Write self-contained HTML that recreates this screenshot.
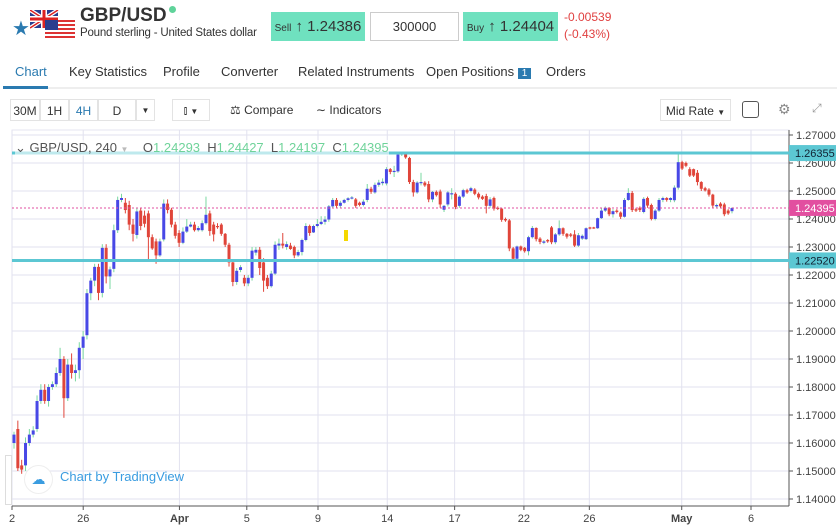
<!DOCTYPE html>
<html><head><meta charset="utf-8">
<style>
body{margin:0;width:837px;height:527px;overflow:hidden;background:#fff;font-family:"Liberation Sans",sans-serif;position:relative}
.a{position:absolute}
.tab{position:absolute;top:64px;font-size:13px;color:#333;white-space:nowrap}
.btn{position:absolute;top:99px;height:22px;border:1px solid #e3e3e3;font-size:12px;color:#333;line-height:22px;text-align:center;box-sizing:border-box;white-space:nowrap}
</style></head><body>
<div class="a" style="left:12px;top:16px;font-size:20px;color:#2a7ab0">★</div>
<svg class="a" style="left:30px;top:10px" width="46" height="30">
<rect x="0" y="0" width="28" height="18" fill="#2a3d8f"/><path d="M0 0L28 18M28 0L0 18" stroke="#fff" stroke-width="4"/><path d="M0 0L28 18M28 0L0 18" stroke="#d22" stroke-width="1.5"/><rect x="11" y="0" width="6" height="18" fill="#fff"/><rect x="0" y="6" width="28" height="6" fill="#fff"/><rect x="12.5" y="0" width="3" height="18" fill="#d22"/><rect x="0" y="7.5" width="28" height="3" fill="#d22"/>
<rect x="15" y="10" width="30" height="19" fill="#fff"/><g fill="#d33"><rect x="15" y="10" width="30" height="2"/><rect x="15" y="14" width="30" height="2"/><rect x="15" y="18" width="30" height="2"/><rect x="15" y="22" width="30" height="2"/><rect x="15" y="26" width="30" height="2"/></g><rect x="15" y="10" width="13" height="10" fill="#2a3d8f"/></svg>
<div class="a" style="left:80px;top:5px;font-size:19px;font-weight:bold;color:#333">GBP/USD</div>
<div class="a" style="left:169px;top:6px;width:7px;height:7px;border-radius:50%;background:#5fd39a"></div>
<div class="a" style="left:80px;top:27px;font-size:11.5px;color:#333;white-space:nowrap;letter-spacing:-0.2px">Pound sterling - United States dollar</div>
<div class="a" style="left:271px;top:12px;width:94px;height:29px;background:#6fe1bf;font-size:15px;line-height:29px;text-align:center;color:#333;white-space:nowrap"><span style="font-size:10px">Sell</span> ↑ 1.24386</div>
<div class="a" style="left:370px;top:12px;width:89px;height:29px;border:1px solid #ccc;box-sizing:border-box;font-size:13px;line-height:27px;text-align:center;color:#333">300000</div>
<div class="a" style="left:463px;top:12px;width:95px;height:29px;background:#6fe1bf;font-size:15px;line-height:29px;text-align:center;color:#333;white-space:nowrap"><span style="font-size:10px">Buy</span> ↑ 1.24404</div>
<div class="a" style="left:564px;top:9px;font-size:12px;color:#e04040;line-height:17px">-0.00539<br>(-0.43%)</div>
<div class="tab" style="left:15px;color:#2a7ab0">Chart</div>
<div class="tab" style="left:69px">Key Statistics</div>
<div class="tab" style="left:163px">Profile</div>
<div class="tab" style="left:221px">Converter</div>
<div class="tab" style="left:298px">Related Instruments</div>
<div class="tab" style="left:426px">Open Positions <span style="background:#2a7ab0;color:#fff;font-size:10px;padding:0 4px">1</span></div>
<div class="tab" style="left:546px">Orders</div>
<div class="a" style="left:3px;top:87px;width:834px;height:2px;background:#eee"></div>
<div class="a" style="left:3px;top:86px;width:45px;height:3px;background:#2a7ab0"></div>
<div class="btn" style="left:10px;width:30px">30M</div>
<div class="btn" style="left:40px;width:29px">1H</div>
<div class="btn" style="left:69px;width:29px;color:#2a7ab0">4H</div>
<div class="btn" style="left:98px;width:38px">D</div>
<div class="btn" style="left:136px;width:19px;font-size:8px">▼</div>
<div class="btn" style="left:172px;width:38px;font-size:11px">⫾ <span style="font-size:8px">▼</span></div>
<div class="a" style="left:230px;top:103px;font-size:12px;color:#333">⚖ Compare</div>
<div class="a" style="left:316px;top:103px;font-size:12px;color:#333">∼ Indicators</div>
<div class="btn" style="left:660px;width:71px">Mid Rate <span style="font-size:8px">▼</span></div>
<div class="a" style="left:742px;top:101px;width:17px;height:17px;border:1px solid #555;border-radius:3px;box-sizing:border-box"></div>
<div class="a" style="left:778px;top:101px;font-size:14px;color:#888">⚙</div>
<div class="a" style="left:812px;top:101px;font-size:12px;color:#999">⤢</div>

<svg id="chart" class="a" style="left:0;top:128px" width="837" height="399"></svg>

<div class="a" style="left:15px;top:140px;font-size:13px;color:#555;background:rgba(255,255,255,0.6);white-space:nowrap">⌄ GBP/USD, 240 <span style="color:#bbb;font-size:8px">▼</span> &nbsp;&nbsp; O<span style="color:#6fd39a">1.24293</span> &nbsp;H<span style="color:#6fd39a">1.24427</span> &nbsp;L<span style="color:#6fd39a">1.24197</span> &nbsp;C<span style="color:#6fd39a">1.24395</span></div>
<div class="a" style="left:24px;top:465px;width:27px;height:27px;border-radius:50%;background:#fff;border:1px solid #eee;color:#3a9ce0;text-align:center;line-height:27px;font-size:14px">☁</div>
<div class="a" style="left:60px;top:469px;font-size:13px;color:#3a9ce0">Chart by TradingView</div>
<div class="a" style="left:5px;top:455px;width:7px;height:50px;border:1px solid #ddd;box-sizing:border-box"></div>

<script>
const yTicks=[1.27,1.26,1.25,1.24,1.23,1.22,1.21,1.20,1.19,1.18,1.17,1.16,1.15,1.14];
const xLabels=["2","26","Apr","5","9","14","17","22","26","May","6"];
const xLabelPos=[0,18.5,43.5,61,79.5,97.5,115,133,150,174,192];
const resistance=1.26355, support=1.22520, lastPrice=1.24395;
const candles=[[1.1600,1.1640,1.1580,1.1630],[1.1650,1.1680,1.1500,1.1510],[1.1520,1.1540,1.1490,1.1505],[1.1520,1.1620,1.1500,1.1600],[1.1600,1.1650,1.1590,1.1630],[1.1630,1.1660,1.1620,1.1645],[1.1650,1.1770,1.1640,1.1750],[1.1750,1.1810,1.1740,1.1790],[1.1790,1.1810,1.1740,1.1750],[1.1750,1.1810,1.1730,1.1800],[1.1800,1.1820,1.1790,1.1810],[1.1810,1.1870,1.1800,1.1850],[1.1850,1.1940,1.1840,1.1900],[1.1900,1.1910,1.1690,1.1760],[1.1760,1.1900,1.1750,1.1880],[1.1880,1.1920,1.1830,1.1850],[1.1850,1.1880,1.1820,1.1860],[1.1860,1.1960,1.1830,1.1940],[1.1940,1.2000,1.1900,1.1980],[1.1985,1.2150,1.1970,1.2135],[1.2135,1.2190,1.2110,1.2180],[1.2180,1.2240,1.2160,1.2229],[1.2229,1.2240,1.2110,1.2136],[1.2136,1.2310,1.2120,1.2297],[1.2297,1.2310,1.2170,1.2195],[1.2195,1.2230,1.2150,1.2220],[1.2222,1.2380,1.2210,1.2360],[1.2360,1.2480,1.2350,1.2468],[1.2468,1.2490,1.2460,1.2475],[1.2458,1.2475,1.2420,1.2432],[1.2450,1.2465,1.2360,1.2380],[1.2380,1.2400,1.2320,1.2347],[1.2343,1.2440,1.2330,1.2427],[1.2430,1.2440,1.2360,1.2375],[1.2412,1.2430,1.2370,1.2383],[1.2420,1.2430,1.2250,1.2335],[1.2335,1.2345,1.2290,1.2295],[1.2320,1.2330,1.2240,1.2270],[1.2270,1.2330,1.2265,1.2320],[1.2327,1.2470,1.2320,1.2455],[1.2455,1.2470,1.2420,1.2432],[1.2433,1.2440,1.2370,1.2380],[1.2380,1.2390,1.2330,1.2340],[1.2350,1.2360,1.2300,1.2315],[1.2315,1.2370,1.2310,1.2355],[1.2355,1.2400,1.2350,1.2373],[1.2373,1.2390,1.2370,1.2380],[1.2380,1.2390,1.2355,1.2360],[1.2360,1.2375,1.2355,1.2368],[1.2360,1.2395,1.2355,1.2385],[1.2385,1.2480,1.2380,1.2415],[1.2420,1.2430,1.2340,1.2357],[1.2380,1.2390,1.2320,1.2345],[1.2375,1.2385,1.2365,1.2372],[1.2380,1.2385,1.2340,1.2347],[1.2347,1.2350,1.2300,1.2308],[1.2308,1.2315,1.2230,1.2245],[1.2245,1.2250,1.2160,1.2175],[1.2175,1.2225,1.2165,1.2215],[1.2218,1.2235,1.2210,1.2228],[1.2190,1.2200,1.2160,1.2170],[1.2170,1.2200,1.2160,1.2190],[1.2190,1.2300,1.2180,1.2287],[1.2280,1.2300,1.2270,1.2290],[1.2290,1.2300,1.2200,1.2225],[1.2245,1.2260,1.2140,1.2180],[1.2190,1.2200,1.2150,1.2160],[1.2160,1.2215,1.2155,1.2205],[1.2205,1.2320,1.2200,1.2308],[1.2305,1.2330,1.2290,1.2312],[1.2312,1.2350,1.2295,1.2305],[1.2300,1.2320,1.2290,1.2310],[1.2305,1.2315,1.2290,1.2293],[1.2300,1.2305,1.2260,1.2270],[1.2270,1.2290,1.2265,1.2282],[1.2282,1.2330,1.2270,1.2325],[1.2325,1.2385,1.2320,1.2375],[1.2375,1.2380,1.2340,1.2350],[1.2352,1.2380,1.2350,1.2375],[1.2375,1.2400,1.2370,1.2382],[1.2382,1.2410,1.2378,1.2390],[1.2390,1.2410,1.2380,1.2398],[1.2398,1.2450,1.2390,1.2445],[1.2445,1.2475,1.2440,1.2468],[1.2468,1.2475,1.2440,1.2447],[1.2447,1.2465,1.2440,1.2458],[1.2458,1.2472,1.2455,1.2468],[1.2468,1.2478,1.2462,1.2474],[1.2474,1.2482,1.2470,1.2477],[1.2470,1.2475,1.2440,1.2447],[1.2458,1.2462,1.2445,1.2450],[1.2450,1.2470,1.2445,1.2462],[1.2468,1.2525,1.2460,1.2508],[1.2508,1.2515,1.2490,1.2497],[1.2495,1.2530,1.2490,1.2522],[1.2522,1.2540,1.2515,1.2530],[1.2528,1.2545,1.2520,1.2533],[1.2527,1.2585,1.2520,1.2578],[1.2578,1.2582,1.2560,1.2568],[1.2568,1.2590,1.2550,1.2572],[1.2570,1.2635,1.2565,1.2630],[1.2630,1.2640,1.2625,1.2635],[1.2635,1.2637,1.2615,1.2620],[1.2618,1.2622,1.2525,1.2532],[1.2532,1.2540,1.2480,1.2495],[1.2495,1.2535,1.2490,1.2530],[1.2530,1.2565,1.2520,1.2532],[1.2530,1.2535,1.2515,1.2520],[1.2525,1.2535,1.2460,1.2470],[1.2470,1.2500,1.2460,1.2497],[1.2497,1.2502,1.2480,1.2485],[1.2498,1.2505,1.2440,1.2452],[1.2433,1.2450,1.2425,1.2447],[1.2452,1.2500,1.2445,1.2495],[1.2490,1.2510,1.2470,1.2492],[1.2490,1.2495,1.2435,1.2443],[1.2447,1.2485,1.2440,1.2480],[1.2480,1.2508,1.2475,1.2503],[1.2503,1.2508,1.2490,1.2495],[1.2500,1.2515,1.2495,1.2510],[1.2505,1.2510,1.2485,1.2490],[1.2490,1.2495,1.2470,1.2477],[1.2480,1.2485,1.2468,1.2472],[1.2482,1.2490,1.2420,1.2447],[1.2447,1.2478,1.2440,1.2470],[1.2475,1.2480,1.2430,1.2437],[1.2440,1.2445,1.2432,1.2437],[1.2437,1.2440,1.2390,1.2397],[1.2400,1.2405,1.2390,1.2395],[1.2395,1.2400,1.2285,1.2295],[1.2295,1.2300,1.2250,1.2258],[1.2258,1.2305,1.2252,1.2302],[1.2302,1.2305,1.2285,1.2290],[1.2297,1.2300,1.2280,1.2285],[1.2285,1.2340,1.2270,1.2335],[1.2335,1.2375,1.2330,1.2368],[1.2368,1.2370,1.2320,1.2328],[1.2330,1.2335,1.2310,1.2318],[1.2315,1.2325,1.2310,1.2320],[1.2325,1.2328,1.2315,1.2320],[1.2370,1.2375,1.2310,1.2317],[1.2317,1.2350,1.2310,1.2345],[1.2345,1.2395,1.2340,1.2367],[1.2367,1.2370,1.2340,1.2347],[1.2347,1.2350,1.2330,1.2337],[1.2345,1.2350,1.2335,1.2340],[1.2345,1.2360,1.2300,1.2305],[1.2305,1.2350,1.2300,1.2342],[1.2330,1.2345,1.2325,1.2340],[1.2328,1.2370,1.2325,1.2367],[1.2370,1.2372,1.2363,1.2367],[1.2370,1.2372,1.2365,1.2367],[1.2367,1.2405,1.2365,1.2403],[1.2403,1.2440,1.2400,1.2430],[1.2430,1.2445,1.2425,1.2440],[1.2440,1.2442,1.2410,1.2417],[1.2417,1.2435,1.2405,1.2428],[1.2430,1.2435,1.2420,1.2425],[1.2423,1.2427,1.2400,1.2408],[1.2408,1.2475,1.2405,1.2468],[1.2468,1.2510,1.2465,1.2493],[1.2493,1.2500,1.2425,1.2432],[1.2435,1.2440,1.2425,1.2430],[1.2440,1.2445,1.2425,1.2432],[1.2425,1.2478,1.2420,1.2472],[1.2475,1.2480,1.2440,1.2448],[1.2450,1.2455,1.2395,1.2400],[1.2400,1.2435,1.2395,1.2430],[1.2430,1.2475,1.2425,1.2468],[1.2468,1.2480,1.2460,1.2475],[1.2475,1.2478,1.2462,1.2468],[1.2468,1.2478,1.2460,1.2475],[1.2467,1.2520,1.2460,1.2512],[1.2512,1.2640,1.2505,1.2603],[1.2603,1.2608,1.2575,1.2580],[1.2600,1.2605,1.2585,1.2590],[1.2578,1.2585,1.2550,1.2555],[1.2578,1.2580,1.2550,1.2555],[1.2565,1.2575,1.2520,1.2532],[1.2532,1.2535,1.2500,1.2508],[1.2510,1.2515,1.2498,1.2502],[1.2505,1.2510,1.2480,1.2487],[1.2487,1.2490,1.2440,1.2448],[1.2445,1.2455,1.2440,1.2450],[1.2455,1.2460,1.2440,1.2445],[1.2452,1.2458,1.2410,1.2417],[1.2430,1.2435,1.2415,1.2420],[1.2428,1.2442,1.2420,1.2439]];

const svg=document.getElementById('chart');
const NS='http://www.w3.org/2000/svg';
const T=128, L=12, R=789, B=506-T;
function y(v){return 135-T+(1.27-v)*2800;}
function xi(i){return 14+i*(718/(candles.length-1));}
function xd(d){return L+d*(751-L)/192;}
function mk(tag,at,name){const e=document.createElementNS(NS,tag);for(const k in at)e.setAttribute(k,at[k]);svg.appendChild(e);return e;}
mk('rect',{x:L,y:2,width:R-L,height:B-2,fill:'none',stroke:'#e6e6f0'},'plot-frame');
yTicks.forEach(v=>{
  mk('line',{x1:L,x2:R,y1:y(v),y2:y(v),stroke:'#e2e2ef'},'y-gridline');
  mk('line',{x1:R,x2:R+4,y1:y(v),y2:y(v),stroke:'#555'},'y-tick');
  const t=mk('text',{x:R+7,y:y(v)+4,'font-size':11,fill:'#444','font-family':'Liberation Sans'},'y-tick-label');t.textContent=v.toFixed(5);
});
xLabels.forEach((s,i)=>{
  const X=xd(xLabelPos[i]);
  mk('line',{x1:X,x2:X,y1:2,y2:B,stroke:'#e2e2ef'},'x-gridline');
  mk('line',{x1:X,x2:X,y1:B,y2:B+4,stroke:'#555'},'x-tick');
  const t=mk('text',{x:X,y:B+16,'font-size':11,fill:'#444','text-anchor':'middle','font-weight':(s=='Apr'||s=='May')?'bold':'normal','font-family':'Liberation Sans'},'x-tick-label');t.textContent=s;
});
mk('line',{x1:R,x2:R,y1:2,y2:B,stroke:'#555'},'y-axis-line');
mk('line',{x1:L,x2:R,y1:B,y2:B,stroke:'#555'},'x-axis-line');
candles.forEach((c,i)=>{
  const [o,h,l,cl]=c, up=cl>=o, X=xi(i);
  mk('line',{x1:X,x2:X,y1:y(h),y2:y(l),stroke:up?'#7ad8a0':'#e0453a','stroke-width':1},'candle-wick');
  const top=y(Math.max(o,cl)), bh=Math.max(1.2,y(Math.min(o,cl))-top);
  mk('rect',{x:X-1.5,y:top,width:3,height:bh,fill:up?'#4848e6':'#e0453a'},'candle-body');
});
mk('line',{x1:L,x2:R,y1:y(lastPrice),y2:y(lastPrice),stroke:'#e24fa0','stroke-dasharray':'2,2'},'last-price-line');
[[resistance,'resistance'],[support,'support']].forEach(([v,n])=>{
  mk('line',{x1:L,x2:R,y1:y(v),y2:y(v),stroke:'#5cc7d3','stroke-width':3},n+'-line');
  mk('rect',{x:R,y:y(v)-8,width:47,height:16,fill:'#5cc7d3'},n+'-label-bg');
  const t=mk('text',{x:R+6,y:y(v)+4,'font-size':11,fill:'#123','font-family':'Liberation Sans'},n+'-label');t.textContent=v.toFixed(5);
});
mk('rect',{x:R,y:y(lastPrice)-8,width:47,height:16,fill:'#e24fa0'},'last-price-label-bg');
const lp=mk('text',{x:R+6,y:y(lastPrice)+4,'font-size':11,fill:'#fff','font-family':'Liberation Sans'},'last-price-label');lp.textContent=lastPrice.toFixed(5);
mk('rect',{x:344,y:230-T,width:4,height:11,fill:'#f5d800'},'event-marker');
</script>
</body></html>
